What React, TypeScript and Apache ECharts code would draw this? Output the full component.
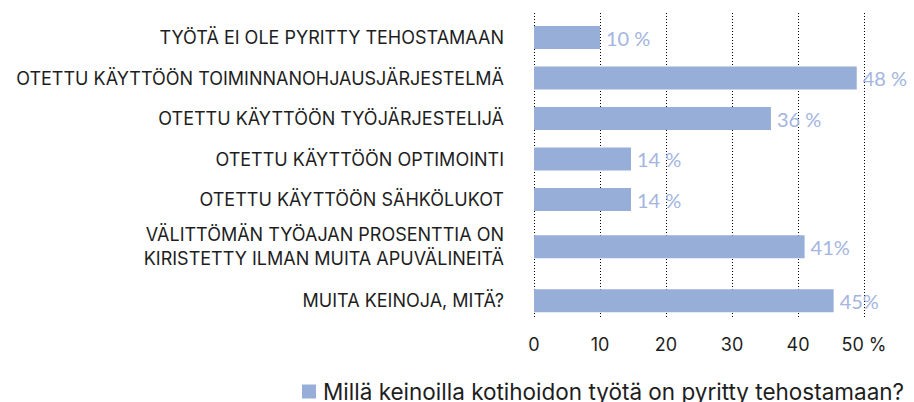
import React, { useEffect, useRef } from "react";
import * as echarts from "echarts";

const categories = [
  "TYÖTÄ EI OLE PYRITTY TEHOSTAMAAN",
  "OTETTU KÄYTTÖÖN TOIMINNANOHJAUSJÄRJESTELMÄ",
  "OTETTU KÄYTTÖÖN TYÖJÄRJESTELIJÄ",
  "OTETTU KÄYTTÖÖN OPTIMOINTI",
  "OTETTU KÄYTTÖÖN SÄHKÖLUKOT",
  "VÄLITTÖMÄN TYÖAJAN PROSENTTIA ON\nKIRISTETTY ILMAN MUITA APUVÄLINEITÄ",
  "MUITA KEINOJA, MITÄ?",
];
const values = [10, 48.9, 35.9, 14.7, 14.7, 41, 45.4];
const valueLabels = ["10 %", "48 %", "36 %", "14 %", "14 %", "41%", "45%"];
const xTicks = [0, 10, 20, 30, 40, 50];
const seriesName = "Millä keinoilla kotihoidon työtä on pyritty tehostamaan?";

const FONT = "Lato";
const CAT_FONT = "Inter";
const BAR = "#97aed9";
const LABEL = "#a3b5e0";
const TEXT = "#1e1e1e";

export default function App() {
  const ref = useRef<HTMLDivElement>(null);
  useEffect(() => {
    if (!ref.current) return;
    const chart = echarts.init(ref.current, undefined, { renderer: "svg" });
    const split1 = 5;
    const hiddenX = (gi: number) => ({
      type: "value",
      gridIndex: gi,
      min: xTicks[0],
      max: xTicks[xTicks.length - 1],
      interval: 10,
      show: false,
    });
    const catAxis = (gi: number, data: string[]) => ({
      type: "category",
      gridIndex: gi,
      data,
      inverse: true,
      axisLine: { show: false },
      axisTick: { show: false },
      splitLine: { show: false },
      axisLabel: {
        margin: 30,
        fontSize: 18,
        fontFamily: CAT_FONT,
        color: TEXT,
        lineHeight: 24,
        align: "right",
      },
    });
    const barSeries = (idx: number, start: number, end: number) => ({
      type: "bar",
      name: seriesName,
      xAxisIndex: idx,
      yAxisIndex: idx,
      barWidth: 23,
      itemStyle: { color: BAR },
      data: values.slice(start, end).map((v, i) => ({
        value: v,
        label: { formatter: valueLabels[start + i] },
      })),
      label: {
        show: true,
        position: "right",
        distance: 6,
        color: LABEL,
        fontFamily: FONT,
        fontSize: 20,
      },
    });
    chart.setOption({
      animation: false,
      textStyle: { fontFamily: FONT },
      legend: {
        left: 302,
        top: 380,
        padding: 0,
        itemWidth: 14,
        itemHeight: 14,
        itemGap: 8,
        icon: "rect",
        data: [seriesName],
        textStyle: { fontSize: 22.5, fontFamily: CAT_FONT, color: TEXT, padding: [0, 0, 0, 2] },
      },
      grid: [
        { left: 534, right: 50, top: 13, bottom: 84, containLabel: false },
        { left: 534, right: 50, top: 17.3, height: 202.5, containLabel: false },
        { left: 534, right: 50, top: 219.8, height: 108, containLabel: false },
      ],
      xAxis: [
        {
          type: "value",
          gridIndex: 0,
          min: xTicks[0],
          max: xTicks[xTicks.length - 1],
          interval: 10,
          axisLine: { show: false },
          axisTick: { show: false },
          splitLine: {
            show: true,
            lineStyle: { type: [1, 2], color: "#000", width: 1 },
          },
          axisLabel: {
            margin: 17,
            fontSize: 18,
            fontFamily: CAT_FONT,
            color: TEXT,
            formatter: (v: number) => (v === 50 ? "50 %" : String(v)),
          },
        },
        hiddenX(1),
        hiddenX(2),
      ],
      yAxis: [
        { type: "value", gridIndex: 0, show: false, min: 0, max: 1 },
        catAxis(1, categories.slice(0, split1)),
        catAxis(2, categories.slice(split1)),
      ],
      series: [
        barSeries(1, 0, split1),
        barSeries(2, split1, categories.length),
      ],
    });
    return () => chart.dispose();
  }, []);
  return (
    <div
      ref={ref}
      style={{ position: "absolute", left: 0, top: 0, width: 914, height: 402 }}
    />
  );
}
